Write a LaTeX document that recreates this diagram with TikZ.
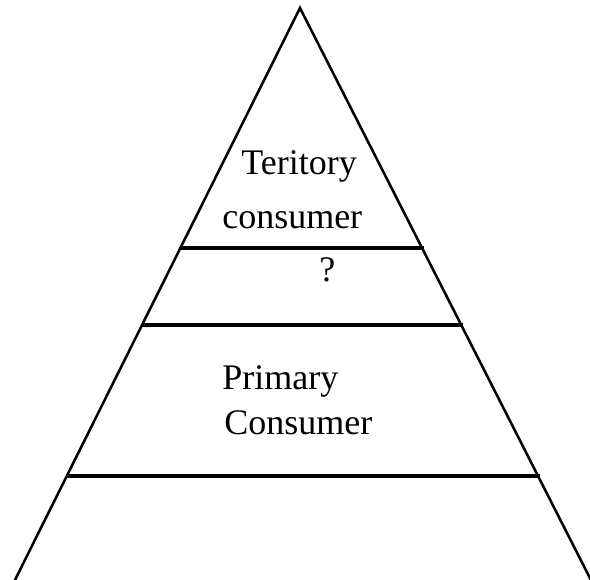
\documentclass[tikz,border=0pt]{standalone}
\usepackage{fontspec}
\setmainfont{Liberation Serif}
\begin{document}
\begin{tikzpicture}[x=0.75pt,y=0.75pt,
  side/.style={line width=1.9pt,black},
  level/.style={line width=2.4pt,black},
  lbl/.style={anchor=base west,inner sep=0pt,font=\fontsize{27}{31}\selectfont}]
\useasboundingbox (0,0) rectangle (590,-580);
\coordinate (apex) at (300,-8);
\coordinate (bl) at (10,-590);
\coordinate (br) at (596,-590);
\begin{scope}
\clip (0,0) rectangle (590,-580);
\draw[side] (bl) -- (apex) -- (br);
\end{scope}
\coordinate (a1) at (180,-248); \coordinate (a2) at (424,-248);
\coordinate (b1) at (141.5,-325); \coordinate (b2) at (463,-325);
\coordinate (c1) at (66,-476); \coordinate (c2) at (540,-476);
\draw[level] (a1) -- (a2);
\draw[level] (b1) -- (b2);
\draw[level] (c1) -- (c2);
\node[lbl] (t1) at (241,-175) {Teritory};
\node[lbl] (t2) at (222,-229) {consumer};
\node[lbl] (q) at (319,-282) {?};
\node[lbl] (p1) at (222,-390) {Primary};
\node[lbl] (p2) at (224,-435) {Consumer};
\end{tikzpicture}
\end{document}
